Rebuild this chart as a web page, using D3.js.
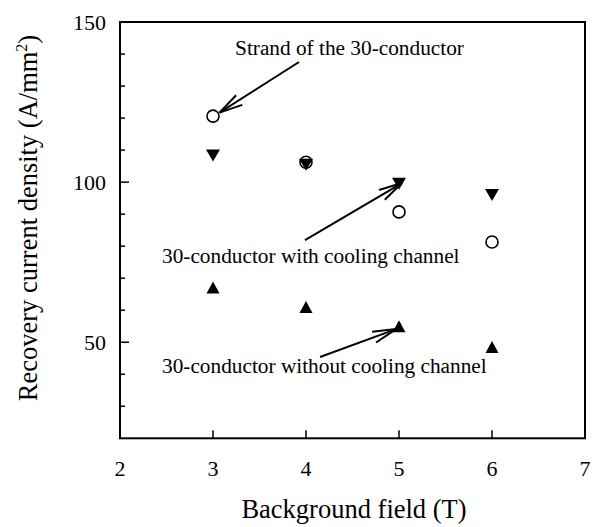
<!DOCTYPE html>
<html><head><meta charset="utf-8">
<script src="https://cdn.jsdelivr.net/npm/d3@7"></script>
<style>body{margin:0;background:#fff}svg{display:block}text{font-family:"Liberation Serif","Times New Roman",serif;fill:#000}</style>
</head><body><svg id="c" width="603" height="527"></svg>
<script>
const fields = [3, 4, 5, 6];
const strand = [120.6, 106.2, 90.7, 81.3];
const withChannel = [108.3, 105.4, 99.5, 96];
const withoutChannel = [67.1, 61, 55, 48.5];
const xTicks = [2, 3, 4, 5, 6, 7];
const yMajor = [50, 100, 150];
const yMinor = [30, 40, 60, 70, 80, 90, 110, 120, 130, 140];
const xLabel = "Background field (T)";
const yLabel = "Recovery current density (A/mm";
const annotations = [
  {text: "Strand of the 30-conductor", tx: 3.237, ty: 139.7, from: [3.925, 137.5], to: [3.07, 121.7]},
  {text: "30-conductor with cooling channel", tx: 2.452, ty: 74.7, from: [3.989, 81.9], to: [5.032, 99.7]},
  {text: "30-conductor without cooling channel", tx: 2.452, ty: 40.4, from: [4.151, 45.4], to: [4.968, 54.1]}
];

const svg = d3.select("#c");
const x = d3.scaleLinear().domain([2, 7]).range([120, 585]);
const y = d3.scaleLinear().domain([20, 150]).range([438.3, 22]);
const [x0, x1] = x.range(), [yb, yt] = y.range();

// frame
svg.append("rect").attr("x", x0).attr("y", yt).attr("width", x1 - x0).attr("height", yb - yt)
  .attr("fill", "none").attr("stroke", "#000").attr("stroke-width", 2);

// y ticks (inward)
svg.selectAll(".ymin").data(yMinor).join("line")
  .attr("x1", x0).attr("x2", x0 + 5).attr("y1", d => y(d)).attr("y2", d => y(d))
  .attr("stroke", "#000").attr("stroke-width", 1.5);
svg.selectAll(".ymaj").data(yMajor).join("line")
  .attr("x1", x0).attr("x2", x0 + 9).attr("y1", d => y(d)).attr("y2", d => y(d))
  .attr("stroke", "#000").attr("stroke-width", 1.5);
svg.selectAll(".ylab").data(yMajor).join("text")
  .attr("x", 106).attr("y", d => y(d)).attr("dy", "0.35em").attr("text-anchor", "end")
  .attr("font-size", 22).text(d => d);

// x ticks (inward)
svg.selectAll(".xt").data(xTicks.slice(1, -1)).join("line")
  .attr("x1", d => x(d)).attr("x2", d => x(d)).attr("y1", yb).attr("y2", yb - 8)
  .attr("stroke", "#000").attr("stroke-width", 1.5);
svg.selectAll(".xlab").data(xTicks).join("text")
  .attr("x", d => x(d)).attr("y", 476).attr("text-anchor", "middle")
  .attr("font-size", 22).text(d => d);

// axis labels
svg.append("text").attr("x", 354).attr("y", 518).attr("text-anchor", "middle")
  .attr("font-size", 26.5).text(xLabel);
const yl = svg.append("text").attr("transform", "translate(37,218) rotate(-90)")
  .attr("text-anchor", "middle").attr("font-size", 26.5);
yl.append("tspan").text(yLabel);
yl.append("tspan").attr("font-size", 16).attr("dy", -10).text("2");
yl.append("tspan").attr("dy", 10).text(")");

// markers
const pts = (vals) => fields.map((f, i) => ({x: f, y: vals[i]}));
svg.selectAll(".circ").data(pts(strand)).join("circle")
  .attr("cx", d => x(d.x)).attr("cy", d => y(d.y)).attr("r", 6)
  .attr("fill", "#fff").attr("stroke", "#000").attr("stroke-width", 1.6);
svg.selectAll(".dn").data(pts(withChannel)).join("path")
  .attr("transform", d => `translate(${x(d.x)},${y(d.y)})`)
  .attr("d", "M-7,-6L7,-6L0,6Z").attr("fill", "#000");
svg.selectAll(".up").data(pts(withoutChannel)).join("path")
  .attr("transform", d => `translate(${x(d.x)},${y(d.y)})`)
  .attr("d", "M-6.5,6L6.5,6L0,-6Z").attr("fill", "#000");

// annotations
annotations.forEach(a => {
  svg.append("text").attr("x", x(a.tx)).attr("y", y(a.ty)).attr("font-size", 21.3).text(a.text);
  const sx = x(a.from[0]), sy = y(a.from[1]), ex = x(a.to[0]), ey = y(a.to[1]);
  svg.append("line").attr("x1", sx).attr("y1", sy).attr("x2", ex).attr("y2", ey)
    .attr("stroke", "#000").attr("stroke-width", 2);
  const ang = Math.atan2(sy - ey, sx - ex), L = 24, h = 0.24;
  [-h, h].forEach(s => {
    svg.append("line").attr("x1", ex).attr("y1", ey)
      .attr("x2", ex + L * Math.cos(ang + s)).attr("y2", ey + L * Math.sin(ang + s))
      .attr("stroke", "#000").attr("stroke-width", 2);
  });
});
</script></body></html>
